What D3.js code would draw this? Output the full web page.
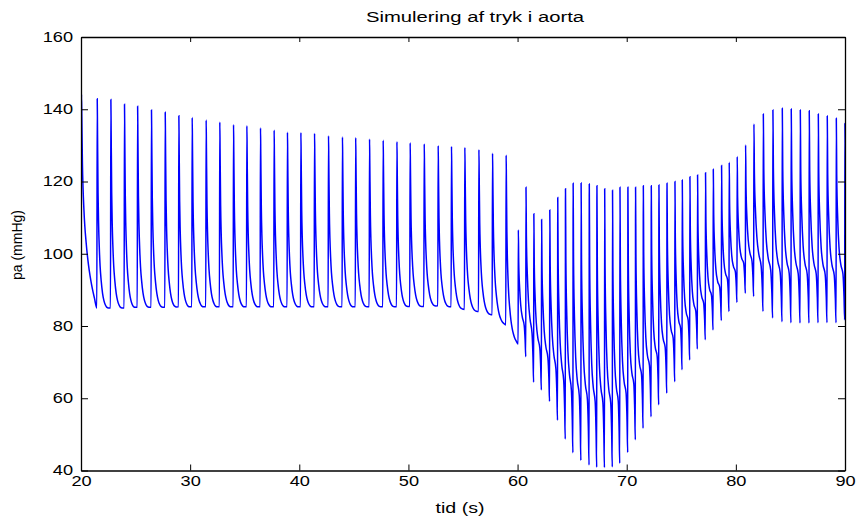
<!DOCTYPE html>
<html>
<head>
<meta charset="utf-8">
<script src="https://cdn.jsdelivr.net/npm/d3@7/dist/d3.min.js"></script>
<style>
  body { margin: 0; background: #fff; }
  text { font-family: "Liberation Sans", Arial, sans-serif; fill: #000; }
</style>
</head>
<body>
<script>
// Beat-by-beat values.
// onset of each beat (s), systolic peak (mmHg), pressure just before the upstroke (mmHg)
const beatTimes = [
    20.0, 21.45, 22.7, 23.95, 25.15, 26.42, 27.68, 28.93, 30.15, 31.43,
    32.68, 33.94, 35.16, 36.41, 37.66, 38.88, 40.11, 41.36, 42.64, 43.92,
    45.13, 46.4, 47.65, 48.91, 50.12, 51.41, 52.69, 53.91, 55.13, 56.42,
    57.67, 58.92,
    60.05, 60.75, 61.47, 62.18, 62.93, 63.66, 64.37, 65.07, 65.8, 66.55,
    67.25, 67.96, 68.68, 69.36, 70.09, 70.79, 71.5, 72.23, 72.93, 73.67,
    74.4, 75.07, 75.77, 76.47, 77.2, 77.91, 78.67, 79.37, 80.1, 80.87,
    81.63, 82.49, 83.37, 84.23, 85.05, 85.88, 86.7, 87.53, 88.35, 89.18,
    89.97
];
const beatPeaks = [
    144.1, 142.9, 142.7, 141.4, 140.8, 139.8, 139.2, 138.2, 137.7, 137.0,
    136.4, 135.7, 135.4, 134.8, 134.2, 133.6, 133.5, 133.3, 132.6, 132.3,
    132.1, 131.7, 131.4, 131.0, 130.7, 130.4, 129.9, 129.7, 129.4, 128.8,
    127.8, 127.3,
    106.6, 118.4, 111.1, 109.5, 112.1, 115.6, 118.0, 119.5, 119.6, 119.3,
    118.8, 118.0, 117.6, 118.4, 118.4, 118.4, 118.8, 118.8, 119.0, 119.5,
    120.0, 120.4, 121.3, 121.8, 122.4, 123.4, 124.4, 125.3, 126.9, 130.1,
    135.9, 138.7, 139.8, 140.3, 140.1, 139.8, 139.6, 138.7, 138.1, 137.5,
    136.1
];
const beatTroughs = [
    103.0, 85.0, 85.0, 85.0, 85.2, 85.2, 85.2, 85.3, 85.3, 85.3,
    85.3, 85.3, 85.3, 85.3, 85.3, 85.3, 85.3, 85.3, 85.3, 85.3,
    85.3, 85.3, 85.3, 85.3, 85.4, 85.4, 85.6, 85.3, 84.6, 84.0,
    83.1, 80.3,
    75.0, 71.5, 64.4, 62.3, 59.1, 53.9, 48.7, 44.9, 42.8, 41.5,
    40.9, 40.8, 41.0, 42.0, 45.0, 48.5, 51.7, 54.9, 58.2, 61.4,
    64.6, 67.9, 70.6, 73.6, 76.2, 78.9, 81.5, 84.0, 86.5, 89.1,
    88.2, 84.0, 82.2, 81.2, 80.9, 80.8, 80.8, 80.9, 80.9, 80.9,
    81.7
];

// Shape of one beat (fraction of the beat, fraction of the pulse height),
// read from single beats: slow rhythm before 60 s, fast rhythm after.
const slowPhase = [0, 0.03, 0.05, 0.09, 0.13, 0.18, 0.24, 0.32, 0.42, 0.52, 0.62, 0.72, 0.85, 1];
const slowShape = [0, 1, 0.85, 0.55, 0.40, 0.29, 0.20, 0.13, 0.07, 0.035, 0.015, 0.004, 0, 0];
const fastPhase = [0, 0.03, 0.08, 0.2, 0.35, 0.55, 0.8, 0.92, 1];
const fastShape = [0, 1, 0.72, 0.5, 0.36, 0.28, 0.23, 0.12, 0];

const xTicks = [20, 30, 40, 50, 60, 70, 80, 90];
const yTicks = [40, 60, 80, 100, 120, 140, 160];

const titleText = "Simulering af tryk i aorta";
const xLabel = "tid (s)";
const yLabel = "pa (mmHg)";

const width = 856, height = 520;
const margin = {top: 37, right: 11, bottom: 49.5, left: 81};
const stretch = 1.3;   // the lettering in the picture is wide

function buildSeries() {
    // Lay the beat shape between each trough and the next one.
    let pts = [];
    let n = beatTimes.length;
    for (let i = 0; i < n; i++) {
        let t0 = beatTimes[i];
        let T = i < n - 1 ? beatTimes[i + 1] - t0 : t0 - beatTimes[i - 1];
        let lo0 = beatTroughs[i];
        let lo1 = i < n - 1 ? beatTroughs[i + 1] : lo0;
        let fast = T < 1;
        let ph = fast ? fastPhase : slowPhase;
        let sh = fast ? fastShape : slowShape;
        ph.forEach((p, k) => {
            if (k === ph.length - 1 && i < n - 1) return; // next beat starts here
            let base = lo0 + (lo1 - lo0) * p;
            pts.push({t: t0 + p * T, v: base + (beatPeaks[i] - base) * sh[k]});
        });
    }
    return pts;
}

const data = buildSeries();

let svg = d3.select("body").append("svg")
    .attr("width", width)
    .attr("height", height);

let x = d3.scaleLinear().domain([20, 90]).range([margin.left, width - margin.right]);
let y = d3.scaleLinear().domain([40, 160]).range([height - margin.bottom, margin.top]);

svg.append("defs").append("clipPath").attr("id", "plotclip")
    .append("rect")
    .attr("x", margin.left).attr("y", margin.top)
    .attr("width", width - margin.left - margin.right)
    .attr("height", height - margin.top - margin.bottom);

let line = d3.line()
    .x(d => x(d.t))
    .y(d => y(d.v))
    .curve(d3.curveMonotoneX);

svg.append("path")
    .datum(data)
    .attr("clip-path", "url(#plotclip)")
    .attr("fill", "none")
    .attr("stroke", "#0000ff")
    .attr("stroke-width", 1.5)
    .attr("d", line);

// Axes: MATLAB box with ticks pointing inwards on all four sides.
function styleAxis(g) {
    g.select(".domain").attr("stroke", "#000").attr("stroke-width", 1.3);
    g.selectAll(".tick line").attr("stroke", "#000").attr("stroke-width", 1);
    g.selectAll(".tick text")
        .attr("font-family", "Liberation Sans, Arial, sans-serif")
        .attr("font-size", 14)
        .attr("fill", "#000");
}

let axBottom = svg.append("g")
    .attr("transform", "translate(0," + (height - margin.bottom) + ")")
    .call(d3.axisBottom(x).tickValues(xTicks).tickSizeInner(-6).tickSizeOuter(0).tickPadding(6));
styleAxis(axBottom);
axBottom.selectAll(".tick text").attr("transform", "scale(" + stretch + ",1)");

let axTop = svg.append("g")
    .attr("transform", "translate(0," + margin.top + ")")
    .call(d3.axisTop(x).tickValues(xTicks).tickSizeInner(-5).tickSizeOuter(0).tickFormat(""));
styleAxis(axTop);

let axLeft = svg.append("g")
    .attr("transform", "translate(" + margin.left + ",0)")
    .call(d3.axisLeft(y).tickValues(yTicks).tickSizeInner(-7).tickSizeOuter(0));
styleAxis(axLeft);
axLeft.selectAll(".tick text")
    .attr("x", -8 / stretch)
    .attr("transform", "scale(" + stretch + ",1)");

let axRight = svg.append("g")
    .attr("transform", "translate(" + (width - margin.right) + ",0)")
    .call(d3.axisRight(y).tickValues(yTicks).tickSizeInner(-7).tickSizeOuter(0).tickFormat(""));
styleAxis(axRight);

// Texts
svg.append("text")
    .attr("transform", "translate(475,21.5) scale(1.35,1)")
    .attr("text-anchor", "middle")
    .attr("font-size", 15)
    .text(titleText);

svg.append("text")
    .attr("transform", "translate(460,513) scale(1.4,1)")
    .attr("text-anchor", "middle")
    .attr("font-size", 14)
    .text(xLabel);

svg.append("text")
    .attr("transform", "translate(22,245) rotate(-90)")
    .attr("text-anchor", "middle")
    .attr("font-size", 14)
    .text(yLabel);
</script>
</body>
</html>
